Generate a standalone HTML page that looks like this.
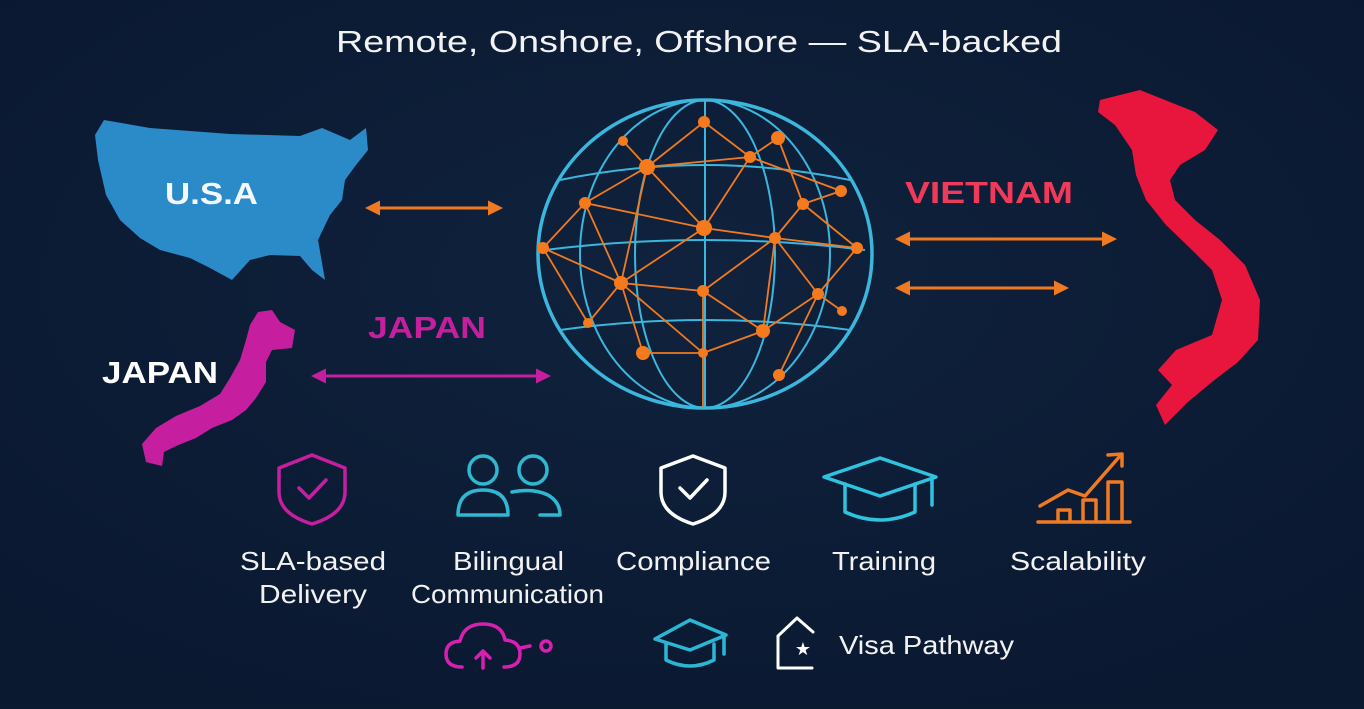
<!DOCTYPE html>
<html><head><meta charset="utf-8"><style>
html,body{margin:0;padding:0;background:#0b1a31;}
body{width:1364px;height:704px;overflow:hidden;font-family:"Liberation Sans",sans-serif;}
</style></head><body>
<svg width="1364" height="704" viewBox="0 0 1364 704" xmlns="http://www.w3.org/2000/svg">
<defs>
<radialGradient id="bg" cx="50%" cy="40%" r="70%"><stop offset="0" stop-color="#10223d"/><stop offset="1" stop-color="#0a1830"/></radialGradient>
<marker id="ao" viewBox="0 0 10 10" refX="8" refY="5" markerWidth="5" markerHeight="5" orient="auto-start-reverse"><path d="M0,0L10,5L0,10z" fill="#f07a22"/></marker>
<marker id="am" viewBox="0 0 10 10" refX="8" refY="5" markerWidth="5" markerHeight="5" orient="auto-start-reverse"><path d="M0,0L10,5L0,10z" fill="#c51fa0"/></marker>
</defs>
<rect width="1364" height="704" fill="url(#bg)"/>
<text x="336" y="52" fill="#f2f2f2" font-size="31" textLength="726" lengthAdjust="spacingAndGlyphs">Remote, Onshore, Offshore — SLA-backed</text>

<!-- USA -->
<path d="M104,120 L150,128 L230,134 L300,136 L322,128 L350,140 L366,128 L368,150 L356,165 L345,180 L342,200 L330,215 L318,240 L325,280 L312,270 L300,256 L270,255 L250,260 L232,280 L210,268 L190,258 L160,250 L140,238 L120,220 L106,195 L98,160 L95,135 Z" fill="#2b8ac8"/>
<text x="165" y="204" fill="#f4f8ff" font-size="31" font-weight="bold" textLength="93" lengthAdjust="spacingAndGlyphs">U.S.A</text>

<!-- Japan -->
<path d="M258,312 L272,310 L280,322 L295,330 L292,348 L272,350 L266,362 L266,382 L256,398 L246,410 L232,420 L212,428 L196,438 L176,446 L164,452 L162,466 L146,462 L142,444 L156,428 L176,416 L200,406 L220,394 L230,378 L240,360 L246,340 L250,325 Z" fill="#c51fa0"/>
<text x="102" y="383" fill="#ffffff" font-size="31" font-weight="bold" textLength="116" lengthAdjust="spacingAndGlyphs">JAPAN</text>

<!-- Vietnam -->
<path d="M1100,100 L1140,90 L1165,100 L1195,112 L1218,130 L1205,150 L1180,165 L1170,180 L1175,200 L1195,220 L1220,240 L1245,265 L1260,300 L1258,340 L1238,362 L1212,382 L1188,402 L1165,425 L1156,405 L1172,385 L1158,370 L1176,350 L1212,335 L1222,300 L1212,270 L1192,250 L1166,225 L1146,200 L1136,175 L1132,150 L1115,125 L1098,112 Z" fill="#e8153c"/>
<text x="905" y="203" fill="#ef3a5a" font-size="31" font-weight="bold" textLength="168" lengthAdjust="spacingAndGlyphs">VIETNAM</text>
<text x="368" y="338" fill="#c51fa0" font-size="31" font-weight="bold" textLength="118" lengthAdjust="spacingAndGlyphs">JAPAN</text>

<!-- arrows -->
<g stroke-width="3">
<line x1="368" y1="208" x2="500" y2="208" stroke="#f07a22" marker-start="url(#ao)" marker-end="url(#ao)"/>
<line x1="898" y1="239" x2="1114" y2="239" stroke="#f07a22" marker-start="url(#ao)" marker-end="url(#ao)"/>
<line x1="898" y1="288" x2="1066" y2="288" stroke="#f07a22" marker-start="url(#ao)" marker-end="url(#ao)"/>
<line x1="314" y1="376" x2="548" y2="376" stroke="#c51fa0" marker-start="url(#am)" marker-end="url(#am)"/>
</g>

<!-- Globe -->
<g fill="none" stroke="#3bb6dc" stroke-width="2">
<ellipse cx="705" cy="254" rx="167" ry="154" stroke-width="3.5"/>
<ellipse cx="705" cy="254" rx="125" ry="154"/>
<ellipse cx="705" cy="254" rx="70" ry="154"/>
<line x1="705" y1="100" x2="705" y2="408"/>
<path d="M560,180 Q705,150 850,180"/>
<path d="M545,250 Q705,230 865,250"/>
<path d="M560,330 Q705,310 850,330"/>
</g>
<g stroke="#f07a22" stroke-width="1.8" fill="none">
<path d="M704,122L647,167 M704,122L750,157 M623,141L647,167 M778,138L750,157 M778,138L803,204 M647,167L750,157 M647,167L585,203 M647,167L704,228 M647,167L621,283 M750,157L841,191 M750,157L704,228 M841,191L803,204 M803,204L775,238 M803,204L857,248 M585,203L704,228 M585,203L543,248 M585,203L621,283 M704,228L775,238 M704,228L621,283 M775,238L857,248 M775,238L703,291 M775,238L818,294 M775,238L763,331 M543,248L621,283 M857,248L818,294 M621,283L703,291 M621,283L588,323 M621,283L643,353 M621,283L703,353 M703,291L703,353 M703,291L763,331 M818,294L842,311 M818,294L763,331 M818,294L779,375 M588,323L543,248 M643,353L703,353 M703,353L763,331 M703,353L703,408"/>
</g>
<g fill="#f57a1e">
<circle cx="704" cy="122" r="6"/><circle cx="623" cy="141" r="5"/><circle cx="778" cy="138" r="7"/><circle cx="647" cy="167" r="8"/><circle cx="750" cy="157" r="6"/><circle cx="841" cy="191" r="6"/><circle cx="803" cy="204" r="6"/><circle cx="585" cy="203" r="6"/><circle cx="704" cy="228" r="8"/><circle cx="775" cy="238" r="6"/><circle cx="543" cy="248" r="6"/><circle cx="857" cy="248" r="6"/><circle cx="621" cy="283" r="7"/><circle cx="703" cy="291" r="6"/><circle cx="818" cy="294" r="6"/><circle cx="842" cy="311" r="5"/><circle cx="588" cy="323" r="5"/><circle cx="763" cy="331" r="7"/><circle cx="643" cy="353" r="7"/><circle cx="703" cy="353" r="5"/><circle cx="779" cy="375" r="6"/>
</g>

<!-- icons row -->
<g fill="none" stroke-width="3.5" stroke-linejoin="round" stroke-linecap="round">
<path d="M312,455 L345,468 L345,492 Q345,514 312,524 Q279,514 279,492 L279,468 Z" stroke="#c51fa0"/>
<path d="M299,488 L309,498 L326,480" stroke="#c51fa0"/>
<g stroke="#2fb8d0">
<circle cx="483" cy="470" r="14"/><circle cx="533" cy="470" r="14"/>
<path d="M458,515 Q458,490 483,490 Q508,490 508,515 Z"/>
<path d="M512,492 Q533,488 548,495 Q560,502 560,515 L540,515"/>
</g>
<path d="M693,456 L725,468 L725,492 Q725,514 693,524 Q661,514 661,492 L661,468 Z" stroke="#ffffff"/>
<path d="M680,488 L690,498 L707,480" stroke="#ffffff"/>
<g stroke="#2fc3df">
<path d="M824,477 L880,458 L936,477 L880,496 Z"/>
<path d="M845,484 L845,512 Q880,528 915,512 L915,484"/>
<path d="M932,479 L932,505"/>
</g>
<g stroke="#f07a22">
<path d="M1038,522 L1130,522"/>
<path d="M1058,520 L1058,510 L1070,510 L1070,520 M1083,520 L1083,500 L1096,500 L1096,520 M1108,520 L1108,482 L1122,482 L1122,520"/>
<path d="M1040,506 L1068,490 L1085,496 L1120,456"/>
<path d="M1108,455 L1122,454 L1122,466"/>
</g>
<g stroke="#d81fb0">
<path d="M462,667 Q446,667 446,654 Q446,642 460,641 Q464,624 483,624 Q502,624 505,640 Q520,641 520,654 Q520,667 504,667"/>
<path d="M483,668 L483,652 M476,658 L483,651 L490,658"/>
<path d="M520,648 L530,646"/><circle cx="546" cy="646" r="5"/>
</g>
<g stroke="#2bb7d4">
<path d="M655,639 L690,620 L726,635 L690,650 Z"/><path d="M666,644 L666,660 Q690,672 714,660 L714,644"/><path d="M724,636 L724,654"/>
</g>
<path d="M778,636 L797,618 L813,632 M778,636 L778,668 L812,668" stroke="#ffffff" stroke-width="3"/>
</g>
<text x="803" y="655" fill="#fff" font-size="18" text-anchor="middle">★</text>

<g fill="#f2f2f2" font-size="26" lengthAdjust="spacingAndGlyphs">
<text x="240" y="570" textLength="146" lengthAdjust="spacingAndGlyphs">SLA-based</text>
<text x="259" y="603" textLength="108" lengthAdjust="spacingAndGlyphs">Delivery</text>
<text x="453" y="570" textLength="111" lengthAdjust="spacingAndGlyphs">Bilingual</text>
<text x="411" y="603" textLength="193" lengthAdjust="spacingAndGlyphs">Communication</text>
<text x="616" y="570" textLength="155" lengthAdjust="spacingAndGlyphs">Compliance</text>
<text x="832" y="570" textLength="104" lengthAdjust="spacingAndGlyphs">Training</text>
<text x="1010" y="570" textLength="136" lengthAdjust="spacingAndGlyphs">Scalability</text>
<text x="839" y="654" textLength="175" lengthAdjust="spacingAndGlyphs">Visa Pathway</text>
</g>
</svg>
</body></html>
